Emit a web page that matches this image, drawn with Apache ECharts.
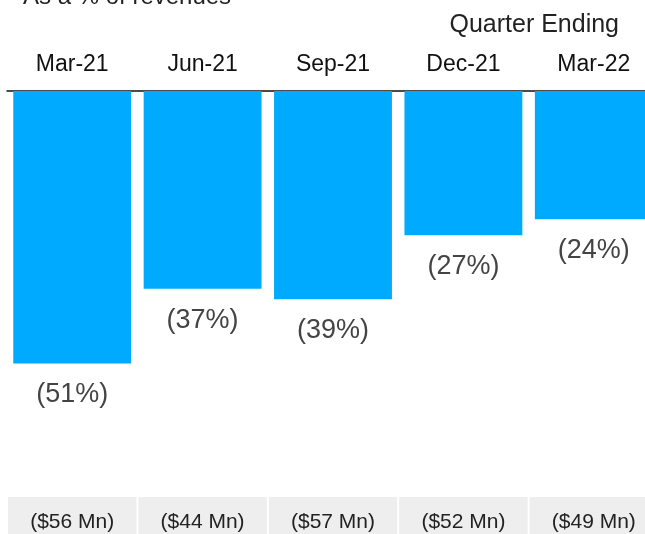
<!DOCTYPE html>
<html>
<head>
<meta charset="utf-8">
<script src="https://cdn.jsdelivr.net/npm/echarts@6/dist/echarts.min.js"></script>
<style>html,body{margin:0;padding:0;background:#fff}#c{width:645px;height:534px}</style>
</head>
<body>
<div id="c"></div>
<script>
const categories = ['Mar-21', 'Jun-21', 'Sep-21', 'Dec-21', 'Mar-22'];
const pctOfRevenue = [-51, -37, -39, -27, -24];
const amountLabels = ['($56 Mn)', '($44 Mn)', '($57 Mn)', '($52 Mn)', '($49 Mn)'];

const FONT = '"Liberation Sans", Arial, sans-serif';
const chart = echarts.init(document.getElementById('c'), null, {renderer: 'canvas'});
chart.setOption({
  animation: false,
  backgroundColor: '#ffffff',
  title: [
    {text: 'As a % of revenues', left: 18, top: -20,
     textStyle: {fontFamily: FONT, fontSize: 24, fontWeight: 'normal', color: '#222'}},
    {text: 'Quarter Ending', right: 21, top: 8,
     textStyle: {fontFamily: FONT, fontSize: 25, fontWeight: 'normal', color: '#222'}}
  ],
  grid: {left: 7, right: -14, top: 91, bottom: 37, containLabel: false, outerBoundsMode: 'none'},
  xAxis: [
    {type: 'category', data: categories, position: 'top',
     axisLine: {show: true, lineStyle: {color: '#111', width: 1.5}},
     axisTick: {show: false},
     axisLabel: {fontFamily: FONT, fontSize: 23, color: '#111', margin: 15,
       interval: 0, showMinLabel: true, showMaxLabel: true, hideOverlap: false}},
    {type: 'category', data: amountLabels, position: 'bottom',
     axisLine: {show: false}, axisTick: {show: false},
     axisLabel: {fontFamily: FONT, fontSize: 21, color: '#222', margin: 0,
       interval: 0, showMinLabel: true, showMaxLabel: true, hideOverlap: false,
       backgroundColor: '#eeeeee', width: 128.5, height: 51, lineHeight: 51,
       align: 'center', verticalAlign: 'top'}}
  ],
  yAxis: {type: 'value', min: -76, max: 0, show: false, splitLine: {show: false}},
  series: [{
    type: 'bar', data: pctOfRevenue, xAxisIndex: 0,
    barCategoryGap: '9.6%',
    itemStyle: {color: '#00aaff'},
    label: {show: true, position: 'bottom', distance: 18,
      fontFamily: FONT, fontSize: 27, color: '#444',
      formatter: p => '(' + Math.abs(p.value) + '%)'}
  }]
});
</script>
</body>
</html>
